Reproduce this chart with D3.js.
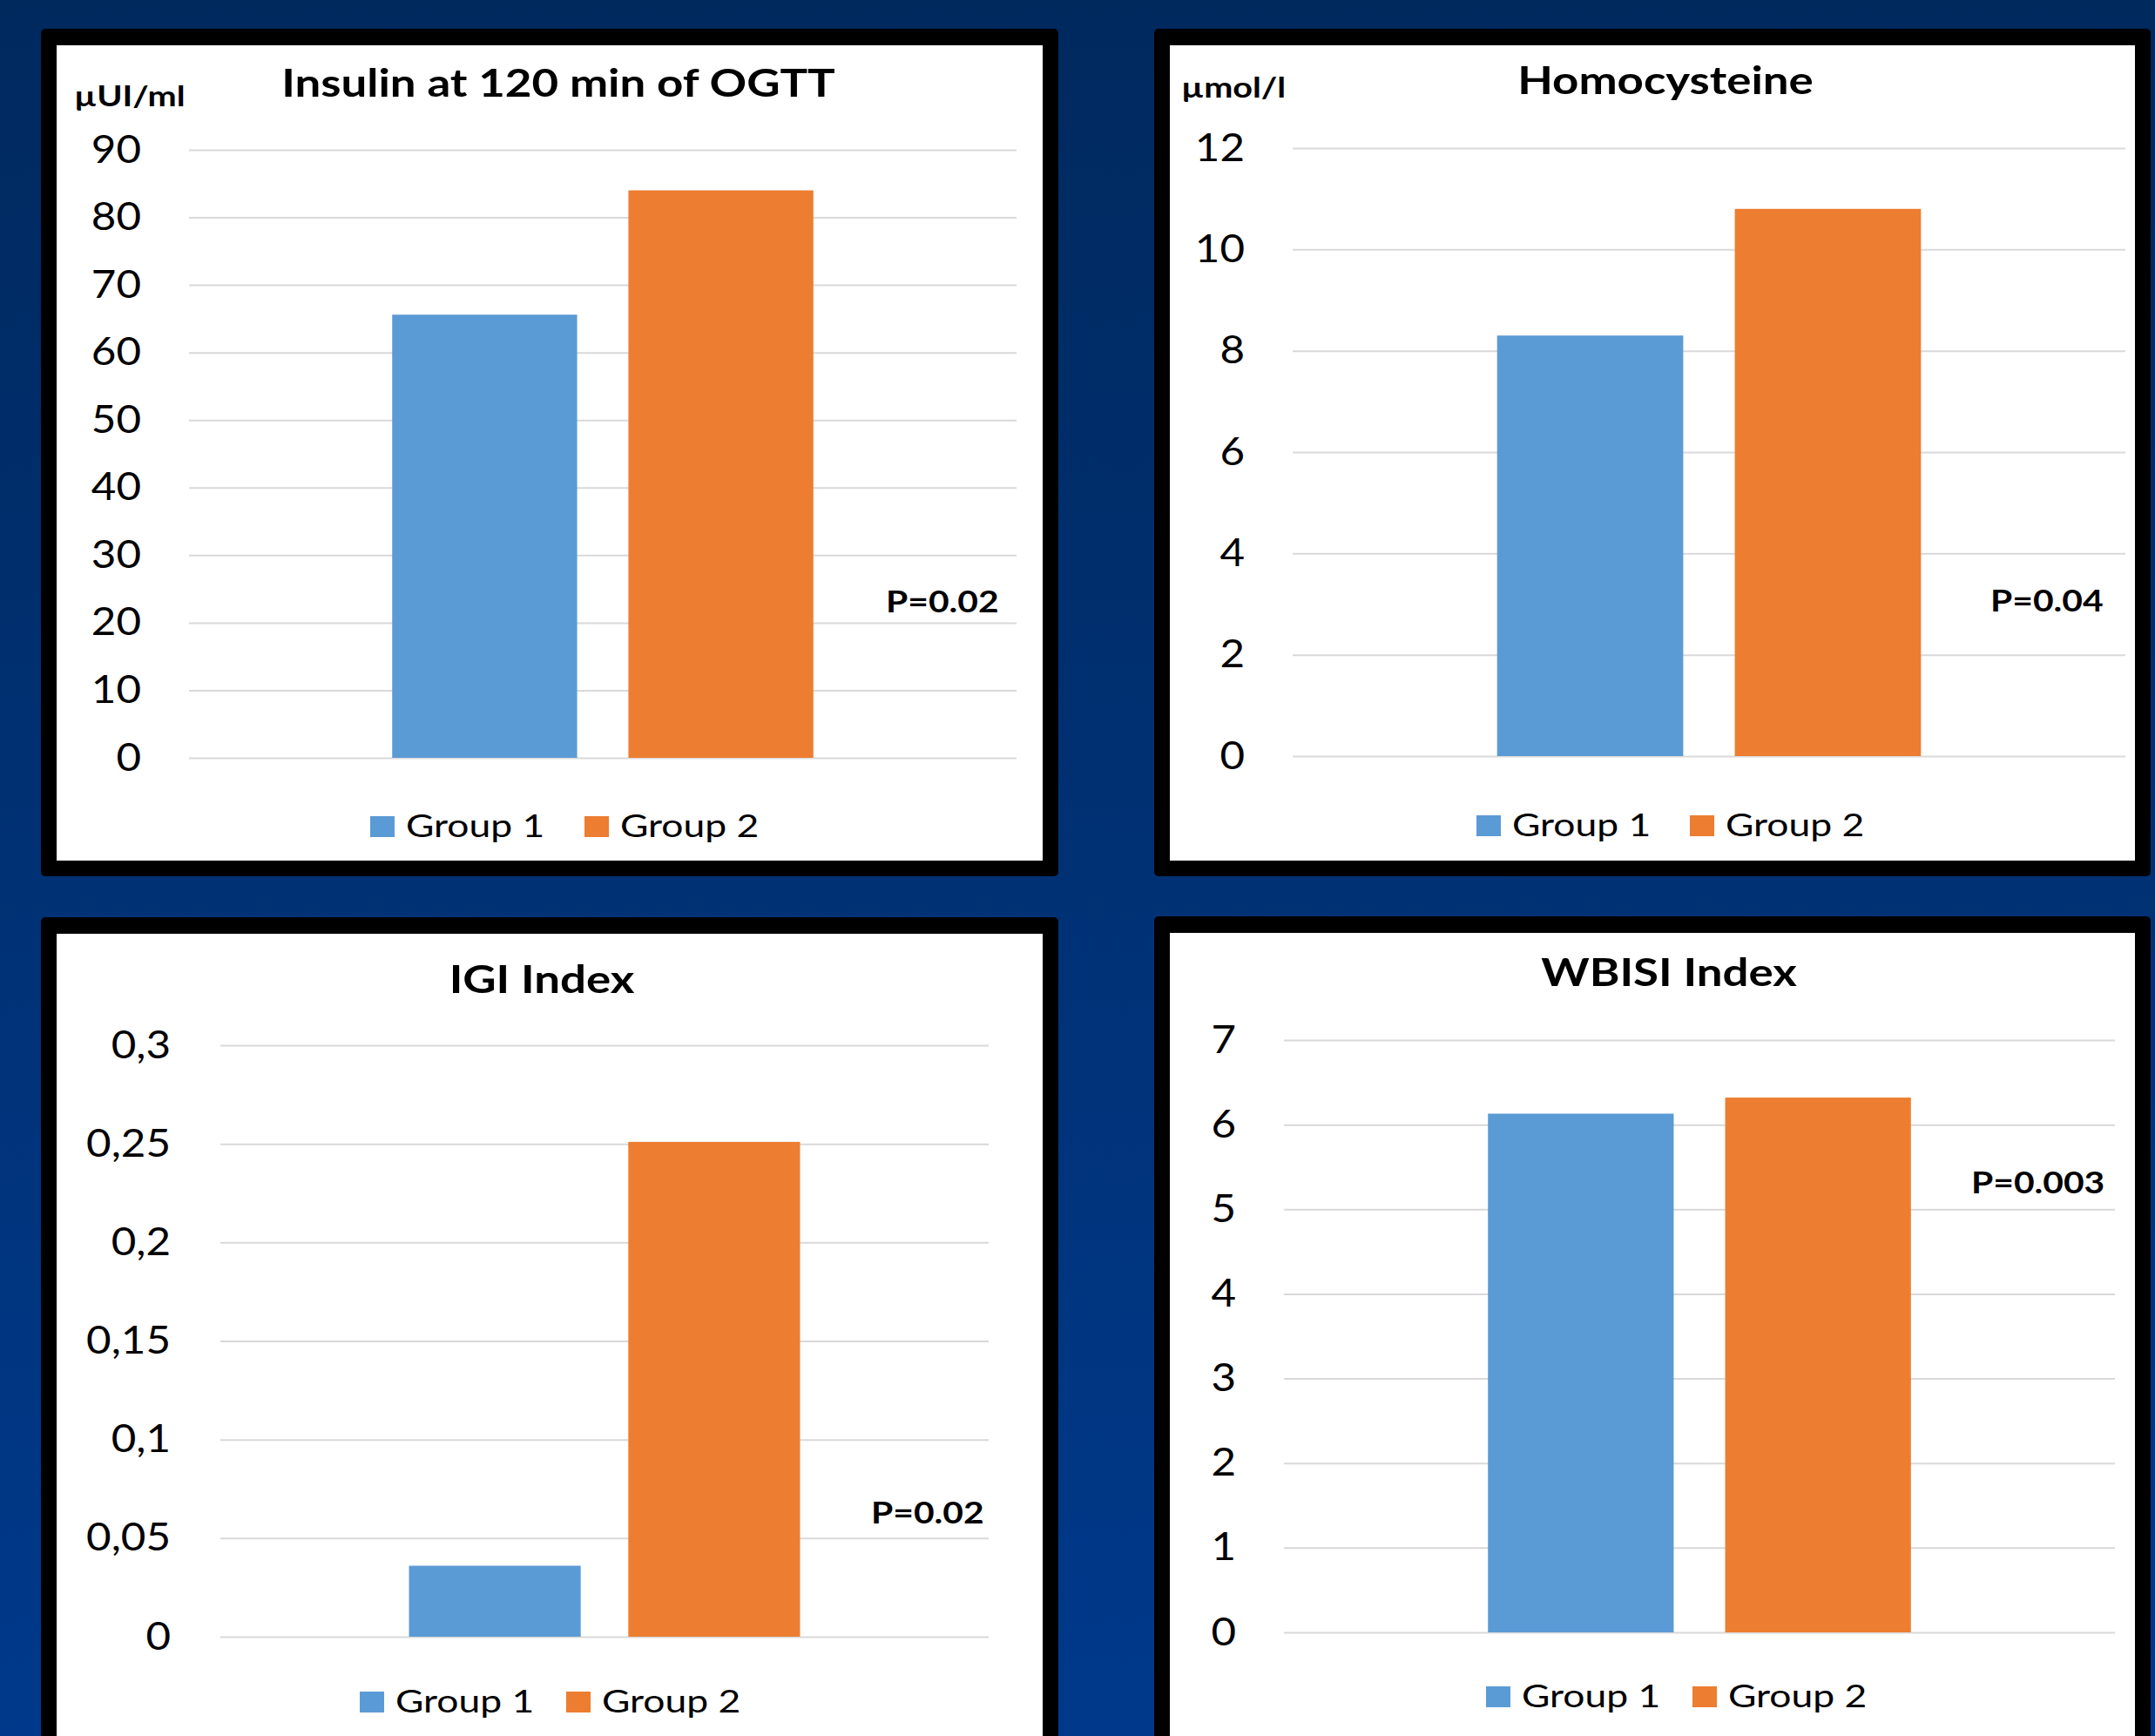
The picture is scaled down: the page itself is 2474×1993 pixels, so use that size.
<!DOCTYPE html>
<html>
<head>
<meta charset="utf-8">
<script src="https://d3js.org/d3.v7.min.js"></script>
<style>
  body { margin: 0; background: #002a62; }
  text { font-family: Lato, "Open Sans", sans-serif; }
</style>
</head>
<body>
<div class="chart"></div>
<script>
var w = 2474, h = 1993;

// data
var groups = ["Group 1", "Group 2"];
var colors = ["#5b9bd5", "#ed7d31"];
var titles = ["Insulin at 120 min of OGTT", "Homocysteine", "IGI Index", "WBISI Index"];
var units = ["µUI/ml", "µmol/l", "", ""];
var pLabels = ["P=0.02", "P=0.04", "P=0.02", "P=0.003"];

var insulin = [65.6, 84.0];
var homocysteine = [8.3, 10.8];
var igi = [0.036, 0.251];
var wbisi = [6.13, 6.32];

var insulinTicks = [0, 10, 20, 30, 40, 50, 60, 70, 80, 90];
var homocysteineTicks = [0, 2, 4, 6, 8, 10, 12];
var igiTicks = [0, 0.05, 0.1, 0.15, 0.2, 0.25, 0.3];
var wbisiTicks = [0, 1, 2, 3, 4, 5, 6, 7];

var comma = d3.formatLocale({decimal: ",", thousands: ".", grouping: [3], currency: ["", ""]}).format("~g");
var plain = d3.format("d");

// layout of the four panels (pixels)
var charts = [
  {title: titles[0], unit: units[0], p: pLabels[0], values: insulin, ticks: insulinTicks, fmt: plain,
   frame: [47, 33, 1215, 1006], plot: [217, 1167, 870, 172], pad: 55,
   tx: 641, ty: 111, ux: 85, uy: 122, px: 1017, py: 703, lx: 425, ly: 961, ls: 246},
  {title: titles[1], unit: units[1], p: pLabels[1], values: homocysteine, ticks: homocysteineTicks, fmt: plain,
   frame: [1325, 33, 2469, 1006], plot: [1484, 2440, 868, 170], pad: 55,
   tx: 1912, ty: 108, ux: 1356, uy: 112, px: 2285, py: 702, lx: 1695, ly: 960, ls: 245},
  {title: titles[2], unit: units[2], p: pLabels[2], values: igi, ticks: igiTicks, fmt: comma,
   frame: [47, 1053, 1215, 2020], plot: [253, 1135, 1879, 1200], pad: 57,
   tx: 622, ty: 1140, ux: 0, uy: 0, px: 1000, py: 1749, lx: 413, ly: 1966, ls: 237},
  {title: titles[3], unit: units[3], p: pLabels[3], values: wbisi, ticks: wbisiTicks, fmt: plain,
   frame: [1325, 1052, 2469, 2020], plot: [1474, 2428, 1874, 1194], pad: 55,
   tx: 1916, ty: 1132, ux: 0, uy: 0, px: 2263, py: 1370, lx: 1706, ly: 1960, ls: 237}
];

var sx = 1.2;      // horizontal stretch of labels
var tickSx = 1.12; // and of tick labels

var svg = d3.select(".chart")
  .append("svg")
  .attr("width", w)
  .attr("height", h);

var grad = svg.append("defs").append("linearGradient")
  .attr("id", "bg").attr("x1", 0).attr("y1", 0).attr("x2", 0).attr("y2", 1);
grad.append("stop").attr("offset", "0%").attr("stop-color", "#00295e");
grad.append("stop").attr("offset", "100%").attr("stop-color", "#00398b");
svg.append("rect").attr("width", w).attr("height", h).attr("fill", "url(#bg)");

function label(g, txt, x, y, size, weight, anchor) {
  return g.append("text")
    .attr("transform", "translate(" + x + "," + y + ") scale(" + sx + ",1)")
    .attr("text-anchor", anchor)
    .attr("font-size", size)
    .attr("font-weight", weight)
    .attr("fill", "#000")
    .text(txt);
}

charts.forEach(function(c) {
  var g = svg.append("g");
  var f = c.frame;
  g.append("rect")
    .attr("x", f[0]).attr("y", f[1])
    .attr("width", f[2] - f[0]).attr("height", f[3] - f[1])
    .attr("rx", 5)
    .attr("fill", "#000");
  g.append("rect")
    .attr("x", f[0] + 18).attr("y", f[1] + 19)
    .attr("width", f[2] - f[0] - 36).attr("height", f[3] - f[1] - 37)
    .attr("fill", "#fff");

  var p = c.plot;
  var y = d3.scaleLinear()
    .domain([0, d3.max(c.ticks)])
    .range([p[2], p[3]]);
  var x = d3.scaleBand()
    .domain(groups)
    .range([p[0], p[1]])
    .paddingInner(0.217)
    .paddingOuter(0.86);

  var axis = d3.axisLeft(y)
    .tickValues(c.ticks)
    .tickFormat(c.fmt)
    .tickSize(-(p[1] - p[0]))
    .tickPadding(c.pad);
  var ag = g.append("g")
    .attr("transform", "translate(" + p[0] + ",0)")
    .call(axis);
  ag.attr("font-family", null).attr("font-size", 44);
  ag.select(".domain").remove();
  ag.selectAll("line").attr("stroke", "#d9d9d9").attr("stroke-width", 2);
  ag.selectAll("text")
    .attr("fill", "#000")
    .attr("x", -c.pad / tickSx)
    .attr("transform", "scale(" + tickSx + ",1)");

  g.selectAll(".bar")
    .data(c.values)
    .enter()
    .append("rect")
    .attr("class", "bar")
    .attr("x", function(d, i) { return x(groups[i]); })
    .attr("y", function(d) { return y(d); })
    .attr("width", x.bandwidth())
    .attr("height", function(d) { return y(0) - y(d); })
    .attr("fill", function(d, i) { return colors[i]; });

  label(g, c.title, c.tx, c.ty, 44, "bold", "middle");
  if (c.unit) label(g, c.unit, c.ux, c.uy, 33, "bold", "start");
  label(g, c.p, c.px, c.py, 34, "bold", "start");

  groups.forEach(function(name, i) {
    var lx = c.lx + i * c.ls;
    g.append("rect")
      .attr("x", lx).attr("y", c.ly - 24)
      .attr("width", 28).attr("height", 24)
      .attr("fill", colors[i]);
    label(g, name, lx + 41, c.ly, 37, "normal", "start");
  });
});
</script>
</body>
</html>
